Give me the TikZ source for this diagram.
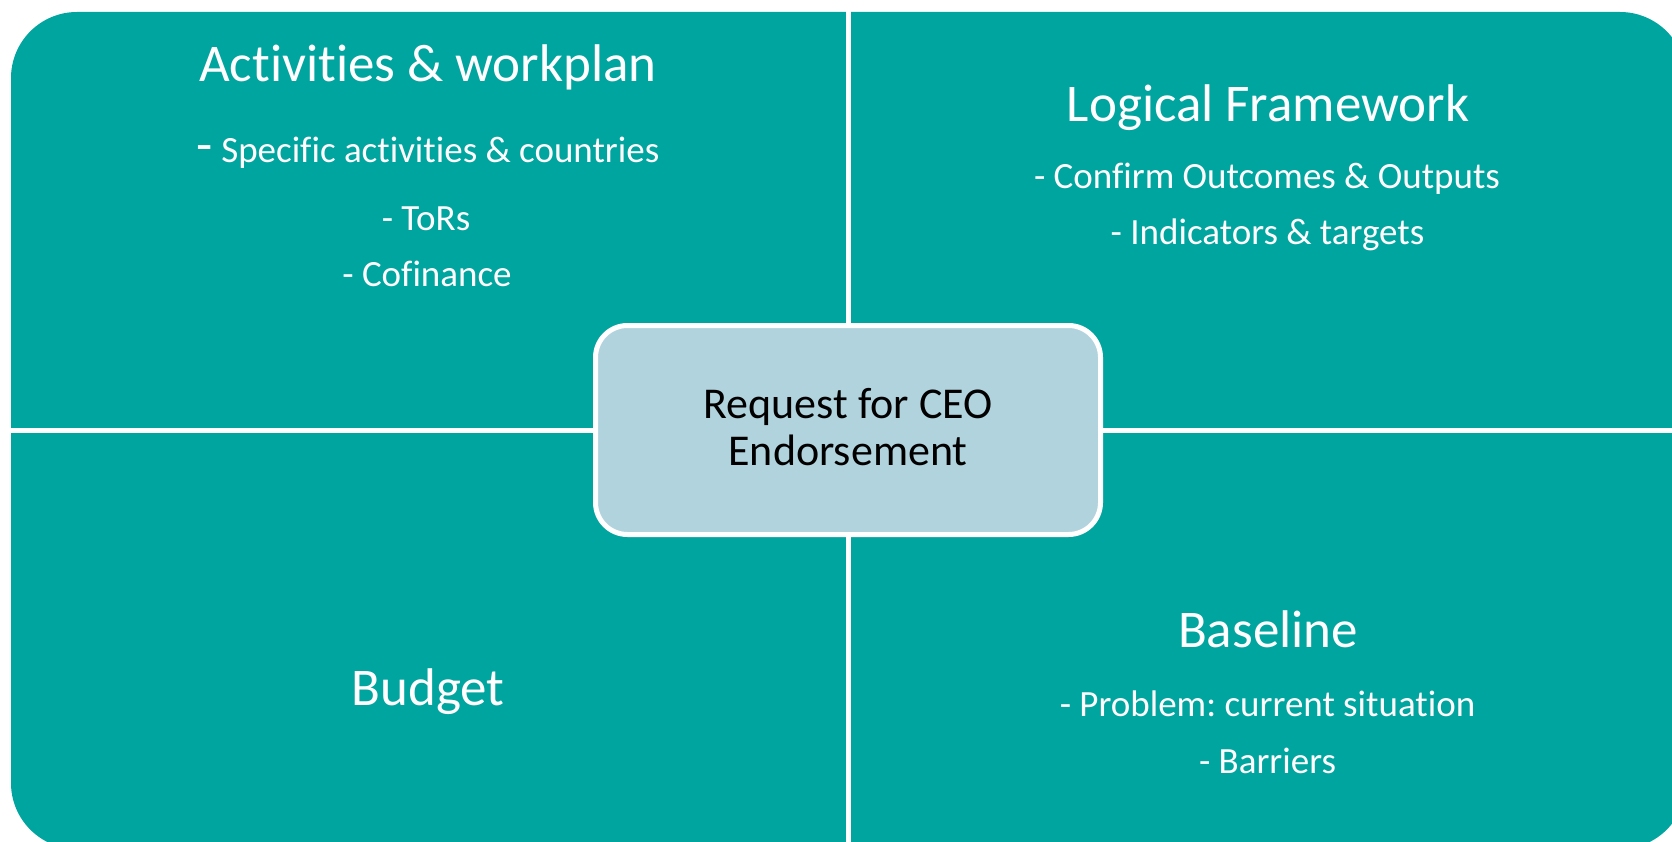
\documentclass[tikz,border=0pt]{standalone}
\usepackage{fontspec}
\setmainfont[Ligatures=NoCommon]{Carlito}
\definecolor{quadteal}{RGB}{0,165,160}
\definecolor{ceoblue}{RGB}{177,211,222}
\begin{document}
\frenchspacing
\begin{tikzpicture}[x=1pt,y=-1pt,
  titletext/.style={text=white,font=\fontsize{53}{60}\selectfont,anchor=base,inner sep=0pt},
  itemtext/.style={text=white,font=\fontsize{37}{44}\selectfont,anchor=base,inner sep=0pt},
  ceotext/.style={text=black,font=\fontsize{44}{50}\selectfont,anchor=base,inner sep=0pt},
  divider/.style={white,line width=5pt},
  ceobox/.style={draw=white,line width=5pt,fill=ceoblue,rounded corners=32pt,
    minimum width=505pt,minimum height=209pt,inner sep=0pt}]
\useasboundingbox (0,0) rectangle (1672,842);
\clip (0,0) rectangle (1672,842);
\fill[white] (0,0) rectangle (1672,842);
% matrix background
\fill[quadteal,rounded corners=66pt] (11,12) rectangle (1686,849);
% dividers
\draw[divider] (848,0) -- (848,842);
\draw[divider] (0,430) -- (1672,430);
% top-left
\node[titletext] (tltitle) at (428,82) {Activities \& workplan};
\node[itemtext] (tl1) at (428,163) {{\fontsize{53}{60}\selectfont -} Specific activities \& countries};
\node[itemtext] (tl2) at (426,231) {- ToRs};
\node[itemtext] (tl3) at (427,287) {- Cofinance};
% top-right
\node[titletext] (trtitle) at (1268,122) {Logical Framework};
\node[itemtext] (tr1) at (1267,189) {- Confirm Outcomes \& Outputs};
\node[itemtext] (tr2) at (1267.5,245) {- Indicators \& targets};
% bottom-left
\node[titletext] (bltitle) at (428,705) {Budget};
% bottom-right
\node[titletext] (brtitle) at (1268,647) {Baseline};
\node[itemtext] (br1) at (1267.5,716) {- Problem: current situation};
\node[itemtext] (br2) at (1267.5,773) {- Barriers};
% centre box
\node[ceobox] (ceo) at (848,430) {};
\node[ceotext] (ceo1) at (848,418) {Request for CEO};
\node[ceotext] (ceo2) at (848,465) {Endorsement};
\end{tikzpicture}
\end{document}
